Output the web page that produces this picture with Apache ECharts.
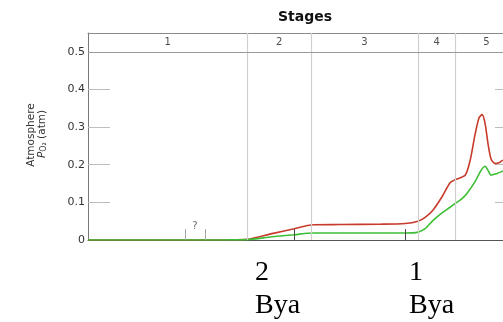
<!DOCTYPE html>
<html>
<head>
<meta charset="utf-8">
<script src="https://cdn.jsdelivr.net/npm/echarts@6/dist/echarts.min.js"></script>
<style>
  html, body { margin: 0; padding: 0; background: #fff; }
  #chart { width: 503px; height: 322px; }
</style>
</head>
<body>
<div id="chart"></div>
<script>
// Oxygen stages (time in billions of years ago)
const stageNames = ['1', '2', '3', '4', '5'];
const stageBounds = [3.85, 2.42, 1.85, 0.89, 0.55, 0];
const visibleAgeRange = [0.126, 3.85];  // youngest age shown at the right edge

// Upper estimate of atmospheric pO2 (atm)
const upperAges = [3.85, 3.2, 2.6, 2.42, 2.2, 2.0, 1.88, 1.82, 1.587, 1.229, 1.004, 0.888, 0.825, 0.753, 0.673, 0.601, 0.556, 0.466, 0.422, 0.377, 0.341, 0.314, 0.287, 0.260, 0.233, 0.197, 0.161, 0.126, 0.063, 0];
const upperPO2 = [0, 0, 0.0005, 0.002, 0.017, 0.030, 0.0385, 0.0405, 0.041, 0.042, 0.044, 0.050, 0.060, 0.080, 0.115, 0.152, 0.160, 0.172, 0.210, 0.280, 0.325, 0.333, 0.310, 0.255, 0.215, 0.203, 0.205, 0.212, 0.212, 0.212];

// Lower estimate of atmospheric pO2 (atm)
const lowerAges = [3.85, 3.2, 2.6, 2.42, 2.2, 2.0, 1.88, 1.82, 1.4, 1.004, 0.888, 0.825, 0.753, 0.673, 0.601, 0.556, 0.493, 0.448, 0.377, 0.323, 0.287, 0.260, 0.233, 0.179, 0.126, 0.063, 0];
const lowerPO2 = [0, 0, 0.0003, 0.001, 0.0085, 0.014, 0.0178, 0.0185, 0.0185, 0.0185, 0.021, 0.030, 0.052, 0.072, 0.087, 0.097, 0.110, 0.124, 0.155, 0.185, 0.196, 0.185, 0.172, 0.177, 0.183, 0.190, 0.190];

const yTicks = [0, 0.1, 0.2, 0.3, 0.4, 0.5];
const markerAges = [2.0, 1.0];        // dark reference ticks
const uncertainAges = [2.98, 2.80];   // uncertain interval ticks
const uncertainLabel = '?';

const zip = (xs, ys) => xs.map((x, i) => [x, ys[i]]);
const stageMids = stageNames.map((_, i) => [(stageBounds[i] + stageBounds[i + 1]) / 2, 0.525]);

const tickPair = (age, color) => [
  { coord: [age, 0], lineStyle: { color: color, width: 1, type: 'solid' } },
  { coord: [age, 0.029] }
];

const chart = echarts.init(document.getElementById('chart'), null, { renderer: 'canvas' });

// inner tick marks; the zero tick would sit on the baseline, so it is left out
const yTickStyle = (len) => ({
  show: true, inside: true, length: len, customValues: yTicks.filter(v => v > 0),
  lineStyle: { color: '#bdbdbd', width: 1 }
});

chart.setOption({
  animation: false,
  grid: { left: 88, right: 0, top: 33, bottom: 82 },
  xAxis: [
    {
      type: 'value', min: visibleAgeRange[0], max: visibleAgeRange[1], inverse: true, position: 'bottom',
      axisLine: { show: true, onZero: false, lineStyle: { color: '#555', width: 1 } },
      axisTick: { show: false }, axisLabel: { show: false }, splitLine: { show: false }
    },
    {
      type: 'value', min: visibleAgeRange[0], max: visibleAgeRange[1], inverse: true, position: 'top',
      axisLine: { show: true, onZero: false, lineStyle: { color: '#8a8a8a', width: 1 } },
      axisTick: { show: false }, axisLabel: { show: false }, splitLine: { show: false }
    }
  ],
  yAxis: [
    {
      type: 'value', min: 0, max: 0.55, position: 'left',
      axisLine: { show: true, lineStyle: { color: '#7a7a7a', width: 1 } },
      axisTick: yTickStyle(22),
      axisLabel: {
        customValues: yTicks, formatter: v => String(v),
        color: '#333', fontFamily: 'DejaVu Sans', fontSize: 11, margin: 3
      },
      splitLine: { show: false }
    },
    {
      type: 'value', min: 0, max: 0.55, position: 'right',
      axisLine: { show: false }, axisTick: yTickStyle(8),
      axisLabel: { show: false }, splitLine: { show: false }
    }
  ],
  series: [
    {
      // stage separators, band line and reference ticks
      type: 'scatter', data: [], z: 1, silent: true,
      markLine: {
        silent: true, symbol: 'none', animation: false,
        label: { show: false },
        data: [
          ...stageBounds.slice(1, -1).map(b => ({ xAxis: b, lineStyle: { color: '#cfcfcf', width: 1.2, type: 'solid' } })),
          { yAxis: 0.5, lineStyle: { color: '#9a9a9a', width: 1, type: 'solid' } },
          ...uncertainAges.map(a => tickPair(a, '#a8a8a8')),
          ...markerAges.map(a => tickPair(a, '#444'))
        ]
      }
    },
    {
      type: 'line', data: zip(upperAges, upperPO2), smooth: 0.25, symbol: 'none', z: 3,
      lineStyle: { color: '#c83b2c', width: 1.6 }
    },
    {
      type: 'line', data: zip(lowerAges, lowerPO2), smooth: 0.25, symbol: 'none', z: 3,
      lineStyle: { color: '#3cbf35', width: 1.6 }
    },
    {
      // stage numbers in the band
      type: 'scatter', data: stageMids, symbolSize: 0, silent: true, z: 4,
      label: {
        show: true, position: 'inside', formatter: p => stageNames[p.dataIndex],
        color: '#222', fontFamily: 'DejaVu Sans', fontSize: 10
      }
    },
    {
      type: 'scatter', data: [[(uncertainAges[0] + uncertainAges[1]) / 2, 0.037]], symbolSize: 0, silent: true, z: 4,
      label: {
        show: true, position: 'inside', formatter: uncertainLabel,
        color: '#444', fontFamily: 'DejaVu Sans', fontSize: 10
      }
    }
  ],
  graphic: [
    {
      type: 'text', x: 305, y: 17,
      style: { text: 'Stages', font: 'bold 14px "DejaVu Sans"', fill: '#111', align: 'center', verticalAlign: 'middle' }
    },
    {
      type: 'text', x: 31, y: 135, rotation: Math.PI / 2,
      style: { text: 'Atmosphere', font: '10.5px "DejaVu Sans"', fill: '#333', align: 'center', verticalAlign: 'middle' }
    },
    {
      type: 'text', x: 42, y: 134, rotation: Math.PI / 2,
      style: {
        text: '{p|P}{s|O₂} (atm)', align: 'center', verticalAlign: 'middle',
        fill: '#333', font: '10.5px "DejaVu Sans"',
        rich: {
          p: { fontStyle: 'italic', fontSize: 10.5, fontFamily: 'DejaVu Sans', fill: '#333' },
          s: { fontSize: 8, fontFamily: 'DejaVu Sans', fill: '#333', padding: [4, 0, 0, 0] }
        }
      }
    },
    { type: 'text', x: 255, y: 273, style: { text: '2', font: '28px "Liberation Serif"', fill: '#000', verticalAlign: 'middle' } },
    { type: 'text', x: 255, y: 306, style: { text: 'Bya', font: '28px "Liberation Serif"', fill: '#000', verticalAlign: 'middle' } },
    { type: 'text', x: 409, y: 273, style: { text: '1', font: '28px "Liberation Serif"', fill: '#000', verticalAlign: 'middle' } },
    { type: 'text', x: 409, y: 306, style: { text: 'Bya', font: '28px "Liberation Serif"', fill: '#000', verticalAlign: 'middle' } }
  ]
});
</script>
</body>
</html>
